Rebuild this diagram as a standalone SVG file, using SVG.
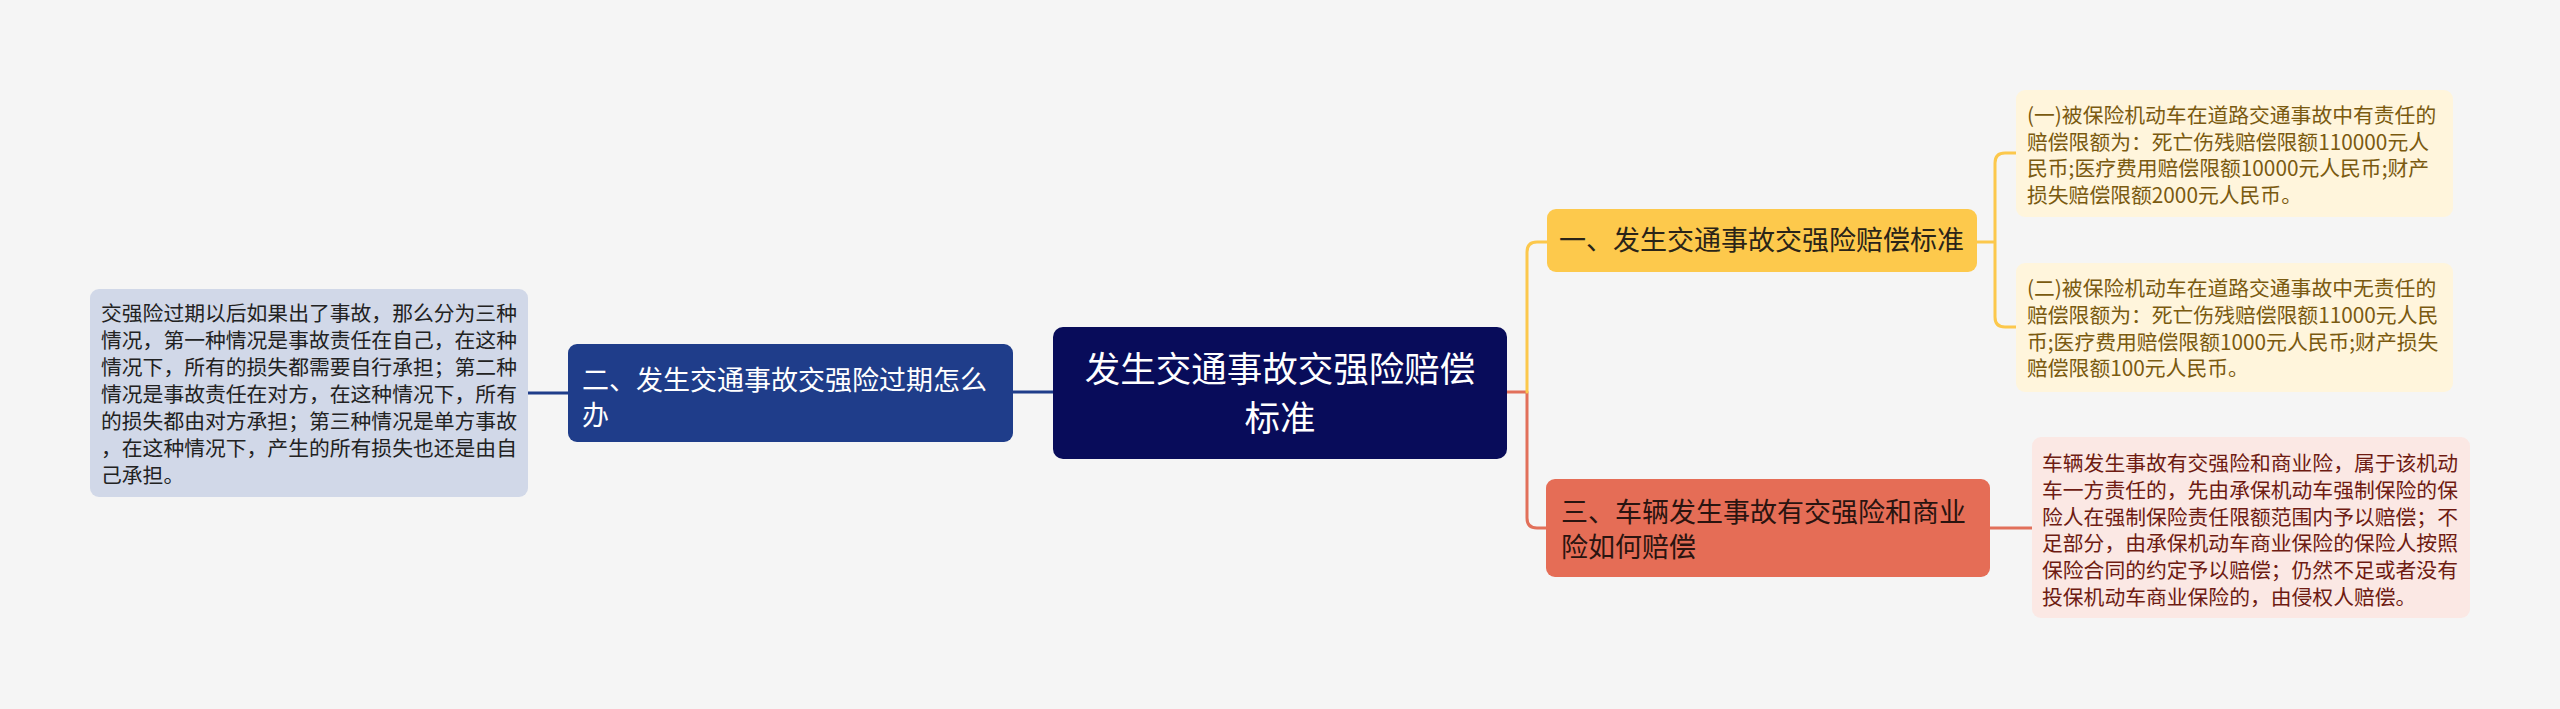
<svg xmlns="http://www.w3.org/2000/svg" width="2560" height="709" viewBox="0 0 2560 709">
<style>
text{font-family:"Noto Sans CJK SC","Microsoft YaHei",sans-serif;}
.c{fill:none;stroke-width:3;stroke-linecap:round;stroke-linejoin:round}
.leaf{font-size:20.8px}
.br{font-size:27px}
.ct{font-size:35.5px;fill:#ffffff}
</style>
<rect width="2560" height="709" fill="#f5f5f5"/>
<g id="connectors">
<path class="c" stroke="#1f3d8a" d="M1053,392 H1013"/>
<path class="c" stroke="#1f3d8a" d="M568,393 H528"/>
<path class="c" stroke="#e2705a" d="M1507,392 H1527 V518 Q1527,528 1537,528 H1546"/>
<path class="c" stroke="#fcc84c" d="M1527,392 V252 Q1527,242 1537,242 H1547"/>
<path class="c" stroke="#fcc84c" d="M1977,242 H1995 M1995,242 V163 Q1995,153 2005,153 H2016 M1995,242 V317 Q1995,327 2005,327 H2016"/>
<path class="c" stroke="#e2705a" d="M1990,528 H2032"/>
</g>
<g id="center">
<rect x="1053" y="327" width="454" height="132" rx="10" fill="#080c5a"/>
<text class="ct" text-anchor="middle"><tspan x="1280" y="382">发生交通事故交强险赔偿</tspan><tspan x="1280" y="431">标准</tspan></text>
</g>
<g id="branch-left">
<rect x="568" y="344" width="445" height="98" rx="9" fill="#1f3d8a"/>
<text class="br" fill="#ffffff"><tspan x="582" y="390">二、发生交通事故交强险过期怎么</tspan><tspan x="582" y="425">办</tspan></text>
</g>
<g id="leaf-left">
<rect x="90" y="289" width="438" height="208" rx="9" fill="#d1d8e8"/>
<text class="leaf" fill="#222222"><tspan x="101" y="321">交强险过期以后如果出了事故，那么分为三种</tspan><tspan x="101" y="348">情况，第一种情况是事故责任在自己，在这种</tspan><tspan x="101" y="375">情况下，所有的损失都需要自行承担；第二种</tspan><tspan x="101" y="402">情况是事故责任在对方，在这种情况下，所有</tspan><tspan x="101" y="429">的损失都由对方承担；第三种情况是单方事故</tspan><tspan x="101" y="456">，在这种情况下，产生的所有损失也还是由自</tspan><tspan x="101" y="483">己承担。</tspan></text>
</g>
<g id="branch-yellow">
<rect x="1547" y="209" width="430" height="63" rx="9" fill="#fdc94c"/>
<text class="br" fill="#2a2418"><tspan x="1559" y="250">一、发生交通事故交强险赔偿标准</tspan></text>
</g>
<g id="leaf-yellow-1">
<rect x="2016" y="90" width="437" height="127" rx="9" fill="#fff5dc"/>
<text class="leaf" fill="#7a5a10"><tspan x="2027" y="123">(一)被保险机动车在道路交通事故中有责任的</tspan><tspan x="2027" y="150">赔偿限额为：死亡伤残赔偿限额110000元人</tspan><tspan x="2027" y="176">民币;医疗费用赔偿限额10000元人民币;财产</tspan><tspan x="2027" y="203">损失赔偿限额2000元人民币。</tspan></text>
</g>
<g id="leaf-yellow-2">
<rect x="2016" y="263" width="437" height="129" rx="9" fill="#fff5dc"/>
<text class="leaf" fill="#7a5a10"><tspan x="2027" y="296">(二)被保险机动车在道路交通事故中无责任的</tspan><tspan x="2027" y="323">赔偿限额为：死亡伤残赔偿限额11000元人民</tspan><tspan x="2027" y="350">币;医疗费用赔偿限额1000元人民币;财产损失</tspan><tspan x="2027" y="376">赔偿限额100元人民币。</tspan></text>
</g>
<g id="branch-red">
<rect x="1546" y="479" width="444" height="98" rx="9" fill="#e56d56"/>
<text class="br" fill="#2a1410"><tspan x="1561" y="522">三、车辆发生事故有交强险和商业</tspan><tspan x="1561" y="557">险如何赔偿</tspan></text>
</g>
<g id="leaf-red">
<rect x="2032" y="437" width="438" height="181" rx="9" fill="#fbe8e4"/>
<text class="leaf" fill="#6e1b12"><tspan x="2042" y="471">车辆发生事故有交强险和商业险，属于该机动</tspan><tspan x="2042" y="498">车一方责任的，先由承保机动车强制保险的保</tspan><tspan x="2042" y="525">险人在强制保险责任限额范围内予以赔偿；不</tspan><tspan x="2042" y="551">足部分，由承保机动车商业保险的保险人按照</tspan><tspan x="2042" y="578">保险合同的约定予以赔偿；仍然不足或者没有</tspan><tspan x="2042" y="605">投保机动车商业保险的，由侵权人赔偿。</tspan></text>
</g>
</svg>
